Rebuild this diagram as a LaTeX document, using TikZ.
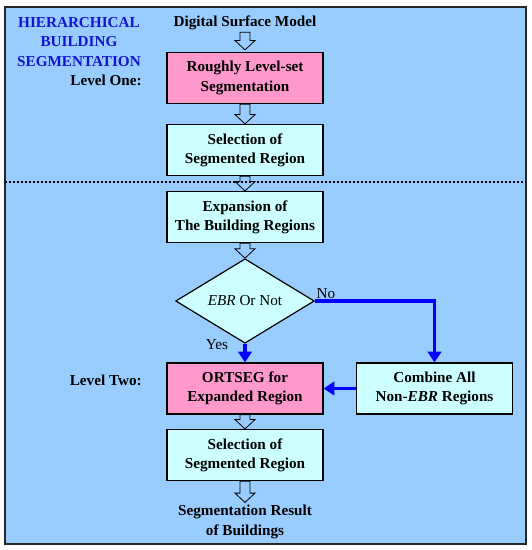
\documentclass[tikz,border=0pt]{standalone}
\usepackage{fontspec}
\setmainfont{Liberation Serif}
\usetikzlibrary{shapes.geometric,arrows.meta,calc}
\definecolor{bgblue}{RGB}{153,204,255}
\definecolor{pinkbox}{RGB}{255,153,204}
\definecolor{cyanbox}{RGB}{204,255,255}
\definecolor{titleblue}{RGB}{20,20,210}
\definecolor{arrowblue}{RGB}{0,0,255}
\begin{document}
\begin{tikzpicture}[x=0.75pt,y=-0.75pt,
  every node/.style={font=\fontsize{11.4}{14.5}\selectfont},
  procbox/.style={draw=black,line width=0.9pt,minimum width=117pt,minimum height=38.25pt,inner sep=0pt,align=center,font=\fontsize{11.4}{14.5}\selectfont\bfseries},
  pinkproc/.style={procbox,fill=pinkbox},
  cyanproc/.style={procbox,fill=cyanbox},
  decision/.style={diamond,draw=black,line width=0.9pt,fill=cyanbox,minimum width=104pt,minimum height=63pt,inner sep=0pt,align=center},
  plain/.style={inner sep=0pt,align=center,font=\fontsize{11.4}{14.5}\selectfont\bfseries},
  hollowstyle/.style={draw=black,line width=0.6pt,fill=bgblue},
  hollowpath/.style={
    to path={let \p1=(\tikztostart), \p2=(\tikztotarget) in
      (\x1-3.75pt,\y1) -- (\x1-3.75pt,\y2+7pt) -- (\x1-7.5pt,\y2+7pt) -- (\x1,\y2)
      -- (\x1+7.5pt,\y2+7pt) -- (\x1+3.75pt,\y2+7pt) -- (\x1+3.75pt,\y1) -- cycle}},
  bluearrow/.style={draw=arrowblue,line width=2.3pt,-{Triangle[length=8pt,width=10pt]}}
]
\useasboundingbox (0,0) rectangle (532,550);
\node[draw=black!85,line width=1pt,fill=bgblue,minimum width=390.75pt,minimum height=402.75pt,inner sep=0pt] (frame) at (265.5,275.5) {};

\node[plain] (dsm) at (245,23) {Digital Surface Model};
\node[pinkproc] (rough) at (245,78) {Roughly Level-set\\Segmentation};
\node[cyanproc] (sel1) at (245,150) {Selection of\\Segmented Region};
\node[cyanproc] (exp) at (245,217) {Expansion of\\The Building Regions};
\node[decision] (dia) at (245,301) {\textit{EBR} Or Not};
\node[pinkproc] (ort) at (245,388.5) {ORTSEG for\\Expanded Region};
\node[cyanproc] (comb) at (434.5,388.5) {Combine All\\Non-\textit{EBR} Regions};
\node[cyanproc] (sel2) at (245,455) {Selection of\\Segmented Region};
\node[plain] (res) at (245,522) {Segmentation Result\\of Buildings};

\node[plain,text=titleblue] (hier) at (79,42) {HIERARCHICAL\\BUILDING\\SEGMENTATION};
\node[plain,anchor=east] (lv1) at (142,80) {Level One:};
\node[plain,anchor=east] (lv2) at (142,380) {Level Two:};
\node[inner sep=0pt] (no) at (326,294) {No};
\node[inner sep=0pt] (yes) at (217,345) {Yes};

\path[hollowstyle] ([yshift=-1.5pt]dsm.south) to[hollowpath] ([yshift=1.5pt]rough.north);
\path[hollowstyle] (rough.south) to[hollowpath] (sel1.north);
\path[hollowstyle] (sel1.south) to[hollowpath] (exp.north);
\path[hollowstyle] (exp.south) to[hollowpath] (dia.north);
\path[hollowstyle] (ort.south) to[hollowpath] (sel2.north);
\path[hollowstyle] (sel2.south) to[hollowpath] ([yshift=2pt]res.north);

\draw[bluearrow] (dia.east) -| (comb.north);
\draw[bluearrow] (dia.south) -- (ort.north);
\draw[bluearrow] (comb.west) -- (ort.east);

\coordinate (dl) at (5,182);
\coordinate (dr) at (526,182);
\draw[black,line width=0.8pt,dash pattern=on 1.8pt off 1.2pt] (dl) -- (dr);
\end{tikzpicture}
\end{document}
